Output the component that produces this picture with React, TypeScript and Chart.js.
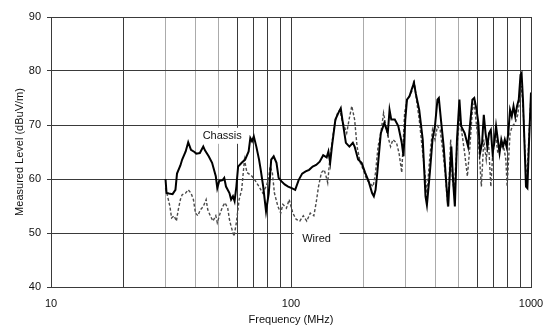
import React, { useEffect, useRef } from "react";
import { Chart, registerables } from "chart.js";

Chart.register(...registerables);

// Frequency gridlines (MHz)
const gridFrequencies = [10, 20, 30, 40, 50, 60, 70, 80, 90, 100, 200, 300, 400, 500, 600, 700, 800, 900, 1000];
const lightGridFrequencies = [30, 40, 50, 200, 300, 400, 500];
const labelledFrequencies = [10, 100, 1000];

// Chassis series
const chassisFreq = [
  30.0, 30.3, 31.0, 32.1, 33.0, 33.5, 34.6, 35.2, 36.4, 37.3, 38.3, 39.6, 40.3, 41.7, 43.1, 43.8, 45.4, 46.9, 48.6, 49.3,
  50.2, 51.9, 52.7, 53.6, 55.4, 56.3, 57.3, 58.2, 59.2, 60.2, 62.3, 64.4, 66.6, 67.7, 68.8, 70.0, 71.7, 73.6, 74.8, 76.6,
  78.7, 80.8, 82.7, 84.7, 87.0, 88.8, 91.1, 94.1, 97.3, 100.7, 104.1, 107.6, 111.3, 115.1, 119.0, 123.1, 127.3, 131.7, 136.2, 140.8,
  143.2, 145.6, 148.1, 153.1, 157.4, 161.2, 163.7, 169.3, 175.1, 181.0, 184.1, 190.4, 196.9, 203.6, 210.5, 217.7, 221.4, 225.1, 228.9, 236.7,
  244.8, 253.1, 257.4, 261.7, 270.7, 279.9, 289.4, 294.3, 299.3, 304.3, 311.6, 320.0, 325.4, 330.9, 342.2, 353.9, 363.5, 368.4, 379.0, 388.7,
  398.0, 407.6, 413.0, 421.4, 432.7, 444.6, 452.0, 459.7, 465.7, 475.2, 481.7, 491.6, 503.2, 511.6, 529.0, 547.0, 556.4, 569.8, 580.0, 593.3,
  603.4, 613.6, 625.5, 635.8, 646.5, 657.5, 668.9, 680.2, 691.7, 703.4, 715.2, 727.3, 739.6, 752.1, 764.8, 777.7, 790.8, 804.2, 817.8, 831.6,
  845.6, 859.9, 874.5, 889.3, 904.3, 913.5, 925.9, 941.4, 953.0, 965.9, 982.1, 1000
];
const chassisLevel = [
  60.0, 57.4, 57.3, 57.2, 58.0, 61.0, 62.5, 63.6, 65.1, 66.8, 65.4, 65.0, 64.7, 64.8, 66.0, 65.3, 64.2, 63.0, 60.5, 58.3,
  59.6, 59.8, 60.2, 58.6, 57.4, 56.2, 56.8, 55.9, 58.6, 62.3, 63.0, 63.6, 65.1, 67.6, 67.0, 67.9, 66.0, 63.6, 61.7, 58.6,
  54.0, 57.4, 63.6, 64.2, 63.0, 60.2, 59.6, 59.0, 58.6, 58.3, 58.0, 59.8, 61.0, 61.4, 61.7, 62.3, 62.6, 63.2, 64.4, 64.0,
  65.1, 63.0, 66.0, 71.0, 72.2, 73.1, 71.0, 66.7, 66.0, 66.7, 66.0, 63.6, 63.0, 61.2, 59.6, 57.4, 56.8, 58.0, 61.2, 68.5,
  70.4, 68.5, 72.8, 71.0, 71.0, 69.8, 66.7, 64.2, 71.0, 74.7, 75.3, 76.9, 77.8, 75.9, 72.8, 67.3, 56.8, 55.2, 61.2, 67.3,
  69.8, 74.7, 75.0, 71.0, 66.0, 58.6, 54.9, 61.6, 66.0, 58.6, 54.9, 67.3, 74.7, 69.8, 68.5, 66.0, 69.8, 74.7, 75.0, 72.8,
  70.4, 64.8, 66.7, 71.9, 68.5, 66.0, 68.5, 69.1, 64.8, 66.7, 69.8, 67.3, 64.8, 67.3, 66.0, 67.3, 66.0, 68.5, 72.8, 71.6,
  73.5, 71.6, 73.5, 74.7, 79.3, 79.6, 74.7, 65.4, 58.6, 58.3, 67.3, 76.0
];

// Wired series
const wiredFreq = [
  30.0, 30.6, 31.3, 31.8, 32.6, 33.3, 33.9, 34.6, 35.2, 36.4, 37.3, 38.3, 39.2, 40.0, 40.9, 41.9, 43.1, 44.3, 45.0, 46.1,
  47.3, 48.6, 49.3, 50.7, 51.9, 53.1, 54.5, 55.4, 56.3, 57.9, 59.2, 60.8, 62.3, 64.0, 65.5, 67.0, 68.8, 71.2, 73.6, 76.2,
  78.7, 80.5, 81.8, 83.6, 85.3, 88.2, 90.6, 92.5, 95.7, 98.3, 101.7, 105.2, 108.8, 112.5, 116.3, 120.3, 124.5, 127.3, 130.2, 133.9,
  137.5, 140.0, 142.2, 145.1, 148.1, 152.2, 156.3, 159.9, 162.9, 166.6, 170.6, 175.1, 179.2, 184.1, 188.5, 194.4, 200.2, 207.1, 214.1, 219.9,
  225.1, 230.5, 236.7, 243.1, 251.4, 259.9, 265.9, 275.2, 281.9, 289.4, 297.4, 304.3, 311.6, 320.0, 325.4, 333.1, 342.2, 351.6, 361.1, 368.4,
  379.0, 388.7, 398.0, 407.6, 418.4, 430.1, 440.4, 447.4, 454.9, 462.6, 470.4, 478.4, 491.6, 503.2, 515.5, 529.0, 543.2, 556.4, 569.8, 580.0,
  593.3, 607.5, 621.2, 635.8, 651.0, 664.3, 680.2, 691.7, 710.5, 727.3, 744.6, 764.8, 785.5, 795.5, 817.8, 836.5, 859.9, 880.4, 898.3, 913.5,
  929.0, 944.6, 960.7, 982.1, 1000
];
const wiredLevel = [
  58.3, 56.8, 54.9, 52.8, 53.2, 52.2, 54.3, 56.2, 57.1, 57.4, 58.0, 57.4, 56.2, 53.7, 53.2, 54.3, 54.9, 56.2, 54.3, 53.2,
  52.2, 53.2, 51.9, 53.7, 54.9, 55.6, 54.6, 52.5, 51.2, 49.4, 51.9, 56.2, 58.0, 63.6, 61.2, 60.9, 60.5, 59.6, 58.6, 57.4,
  58.6, 59.8, 62.3, 61.2, 57.4, 54.9, 53.7, 55.3, 54.6, 56.2, 53.7, 52.5, 52.2, 53.2, 52.2, 53.7, 53.2, 55.6, 58.6, 61.2,
  61.7, 60.5, 59.3, 63.6, 66.7, 70.4, 72.2, 72.8, 71.0, 69.8, 68.5, 71.3, 73.5, 71.0, 66.0, 63.0, 61.7, 59.8, 59.1, 58.6,
  61.2, 66.0, 68.5, 72.2, 68.5, 66.0, 67.3, 66.7, 64.8, 61.2, 72.2, 74.7, 75.4, 76.4, 78.4, 74.7, 71.0, 66.0, 61.2, 57.4,
  64.2, 69.1, 67.3, 69.8, 69.1, 64.8, 60.5, 56.2, 58.6, 67.3, 59.8, 58.0, 66.0, 71.0, 68.5, 64.8, 60.5, 66.0, 72.8, 74.0,
  69.8, 65.4, 58.6, 67.3, 63.6, 67.3, 58.6, 64.2, 68.5, 64.8, 65.4, 66.7, 63.6, 58.6, 68.5, 69.8, 70.4, 71.9, 74.7, 77.2,
  72.2, 64.8, 59.8, 68.5, 75.4
];

// In-plot curve labels (anchor in data units)
const curveLabelText = ["Chassis", "Wired"];
const curveLabelFreq = [51.7, 127.8];
const curveLabelLevel = [68.0, 48.9];
const curveLabelBoxWidth = [40, 46];

const FONT_FAMILY = '"Liberation Sans", Arial, Helvetica, sans-serif';

const curveLabelPlugin = {
  id: "curveLabels",
  beforeDatasetsDraw(chart: any) {
    const { ctx, scales } = chart;
    const x = scales.x;
    const y = scales.y;
    ctx.save();
    ctx.font = `11px ${FONT_FAMILY}`;
    ctx.textAlign = "center";
    ctx.textBaseline = "middle";
    for (let i = 0; i < curveLabelText.length; i++) {
      const px = x.getPixelForValue(curveLabelFreq[i]);
      const py = y.getPixelForValue(curveLabelLevel[i]);
      const w = curveLabelBoxWidth[i];
      ctx.fillStyle = "#ffffff";
      ctx.fillRect(px - w / 2, py - 8, w, 16);
      ctx.fillStyle = "#111111";
      ctx.fillText(curveLabelText[i], px, py);
    }
    ctx.restore();
  },
};

export default function App() {
  const canvasRef = useRef<HTMLCanvasElement | null>(null);

  useEffect(() => {
    document.body.style.margin = "0";
    const canvas = canvasRef.current;
    if (!canvas) return;

    const chart = new Chart(canvas, {
      type: "line",
      data: {
        datasets: [
          {
            label: "Chassis",
            data: chassisFreq.map((f, i) => ({ x: f, y: chassisLevel[i] })),
            borderColor: "#000000",
            borderWidth: 2,
            pointRadius: 0,
            tension: 0,
            fill: false,
          },
          {
            label: "Wired",
            data: wiredFreq.map((f, i) => ({ x: f, y: wiredLevel[i] })),
            borderColor: "#4a4a4a",
            borderWidth: 1.4,
            borderDash: [3, 2],
            pointRadius: 0,
            tension: 0,
            fill: false,
          },
        ],
      },
      options: {
        responsive: false,
        animation: false,
        events: [],
        layout: { padding: { left: 0, top: 17, right: 16, bottom: 0 } },
        plugins: {
          legend: { display: false },
          tooltip: { enabled: false },
          title: { display: false },
        },
        scales: {
          x: {
            type: "logarithmic",
            min: 10,
            max: 1000,
            afterBuildTicks: (scale: any) => {
              scale.ticks = gridFrequencies.map((v) => ({ value: v }));
            },
            afterFit: (scale: any) => {
              scale.height = 40;
              scale.paddingLeft = 0;
              scale.paddingRight = 0;
            },
            ticks: {
              autoSkip: false,
              maxRotation: 0,
              padding: 10,
              color: "#111111",
              font: { family: FONT_FAMILY, size: 11 },
              callback: (value: any) => (labelledFrequencies.includes(Number(value)) ? String(value) : ""),
            },
            grid: {
              drawTicks: false,
              lineWidth: 1,
              color: (ctx: any) =>
                ctx.tick && lightGridFrequencies.includes(ctx.tick.value) ? "#ababab" : "#3a3a3a",
            },
            border: { display: true, color: "#3a3a3a", width: 1 },
            title: {
              display: true,
              text: "Frequency (MHz)",
              color: "#111111",
              font: { family: FONT_FAMILY, size: 11 },
              padding: { top: 0, bottom: 0 },
            },
          },
          y: {
            type: "linear",
            min: 40,
            max: 90,
            afterFit: (scale: any) => {
              scale.width = 51;
              scale.paddingTop = 0;
              scale.paddingBottom = 0;
            },
            ticks: {
              stepSize: 10,
              padding: 6,
              color: "#111111",
              font: { family: FONT_FAMILY, size: 11 },
            },
            grid: {
              drawTicks: true,
              tickLength: 4,
              lineWidth: 1,
              color: "#3a3a3a",
            },
            border: { display: true, color: "#3a3a3a", width: 1 },
            title: {
              display: true,
              text: "Measured Level (dBuV/m)",
              color: "#111111",
              font: { family: FONT_FAMILY, size: 11 },
              padding: { top: 13, bottom: 0 },
            },
          },
        },
      },
      plugins: [curveLabelPlugin],
    } as any);

    return () => {
      chart.destroy();
    };
  }, []);

  return (
    <div style={{ position: "absolute", left: 0, top: 0, width: 547, height: 327, background: "#ffffff" }}>
      <canvas ref={canvasRef} width={547} height={327} style={{ display: "block", width: 547, height: 327 }} />
    </div>
  );
}
